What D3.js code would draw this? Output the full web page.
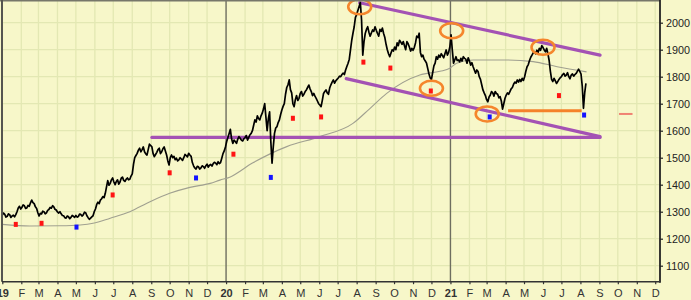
<!DOCTYPE html>
<html><head><meta charset="utf-8">
<script src="https://cdn.jsdelivr.net/npm/d3@7"></script>
<style>
html,body{margin:0;padding:0;background:#f7f7c9;}
svg{display:block;}
text{font-family:"Liberation Sans",Arial,sans-serif;}
</style></head><body>
<svg id="chart" width="691" height="300"></svg>
<script>
// ---------- data ----------
const priceStart = "2019-01-01";
const priceStepDays = 2;
const prices = [
 1288,1295,1290,1280,1283,1292,1289,1279,1284,1287,1281,1289,1300,1314,1320,1310,1316,1325,1322,1312,
 1314,1323,1320,1333,1343,1334,1330,1318,1312,1296,1284,1294,1292,1302,1300,1292,1296,1305,1308,1316,
 1313,1322,1318,1309,1306,1299,1295,1300,1292,1286,1285,1278,1276,1284,1281,1274,1279,1286,1283,1279,
 1286,1280,1282,1291,1290,1284,1288,1298,1296,1285,1278,1272,1276,1281,1285,1300,1310,1327,1335,1330,
 1343,1348,1356,1352,1368,1392,1415,1398,1405,1418,1425,1410,1400,1412,1418,1402,1410,1424,1428,1416,
 1412,1420,1425,1418,1420,1432,1440,1475,1500,1508,1516,1528,1535,1522,1530,1540,1522,1514,1510,1530,
 1550,1545,1540,1515,1504,1512,1520,1530,1535,1515,1522,1533,1540,1525,1510,1488,1473,1500,1510,1500,
 1505,1493,1498,1488,1492,1500,1495,1490,1500,1512,1508,1503,1516,1510,1505,1482,1470,1462,1458,1468,
 1466,1458,1462,1470,1467,1461,1470,1476,1465,1472,1475,1469,1478,1483,1480,1474,1485,1478,1482,1498,
 1515,1525,1540,1560,1575,1590,1605,1570,1553,1565,1560,1553,1568,1578,1572,1565,1562,1570,1575,1582,
 1565,1575,1585,1590,1600,1620,1640,1632,1655,1645,1640,1655,1665,1680,1700,1650,1600,1645,1670,1560,
 1480,1540,1590,1610,1615,1630,1640,1660,1677,1690,1700,1735,1760,1770,1788,1752,1740,1700,1689,1715,
 1730,1712,1720,1738,1745,1728,1735,1745,1751,1760,1769,1755,1745,1730,1738,1728,1720,1710,1700,1695,
 1689,1712,1738,1745,1751,1740,1735,1758,1770,1780,1788,1776,1785,1790,1795,1802,1800,1808,1813,1808,
 1825,1838,1850,1865,1900,1935,1961,1985,2020,2030,2045,2060,2075,2010,1880,1930,1960,1975,1985,1965,
 1950,1962,1973,1968,1985,1972,1960,1950,1975,1968,1980,1960,1945,1920,1900,1885,1874,1888,1900,1895,
 1910,1900,1925,1915,1935,1928,1920,1930,1915,1900,1930,1922,1910,1895,1905,1898,1908,1925,1950,1945,
 1961,1890,1874,1880,1865,1858,1850,1830,1810,1795,1790,1815,1840,1850,1874,1865,1880,1872,1885,1878,
 1870,1885,1899,1880,1890,1910,1955,1900,1850,1862,1874,1860,1862,1855,1868,1858,1874,1868,1865,1850,
 1870,1858,1843,1852,1837,1825,1813,1825,1819,1800,1790,1770,1751,1740,1730,1715,1707,1725,1732,1745,
 1740,1728,1745,1738,1735,1722,1726,1710,1680,1700,1720,1732,1740,1735,1745,1755,1760,1772,1780,1776,
 1788,1780,1790,1782,1794,1786,1800,1820,1837,1845,1860,1872,1880,1888,1893,1885,1898,1890,1905,1898,
 1915,1908,1899,1892,1905,1885,1860,1820,1790,1782,1794,1785,1775,1782,1790,1796,1800,1808,1812,1802,
 1806,1815,1800,1792,1806,1810,1802,1808,1812,1820,1828,1820,1810,1765,1683,1740,1775
];

const maDates = ["2019-01-01","2019-02-15","2019-04-05","2019-05-08","2019-05-29","2019-06-26",
 "2019-07-28","2019-08-30","2019-10-01","2019-11-03","2019-12-06","2019-12-22","2020-01-07",
 "2020-02-13","2020-04-09","2020-06-02","2020-07-26","2020-08-23","2020-09-19","2020-11-12",
 "2020-12-15","2020-12-31","2021-01-11","2021-02-07","2021-04-03","2021-05-16","2021-06-24","2021-08-11"];
const maValues = [1253,1247,1248,1251,1257,1276,1300,1337,1368,1390,1405,1417,1428,
 1480,1541,1578,1627,1683,1738,1806,1820,1831,1850,1862,1862,1856,1837,1818];

const markerDates = ["2019-01-23","2019-03-06","2019-05-02","2019-06-30","2019-10-01","2019-11-13",
 "2020-01-13","2020-03-14","2020-04-19","2020-06-04","2020-08-12","2020-09-25","2020-11-30",
 "2021-03-06","2021-06-27","2021-08-07"];
const markerValues = [1253,1257,1243,1362,1444,1425,1513,1427,1646,1651,1854,1832,1747,1651,1730,1658];
const markerKinds = ["r","r","b","r","r","b","r","b","r","r","r","r","r","b","r","b"];

const trendStartDates = ["2019-09-02","2020-07-15","2020-08-06"];
const trendStartValues = [1575,1793,2074];
const trendEndDates = ["2021-09-02","2021-09-02","2021-09-02"];
const trendEndValues = [1575,1578,1880];

const circleDates = ["2020-08-06","2021-01-03","2020-12-01","2021-03-02","2021-06-01"];
const circleValues = [2059,1970,1757,1662,1909];

const supportDates = ["2021-04-05","2021-08-03"];
const supportValue = 1674;
const targetDates = ["2021-10-03","2021-10-25"];
const targetValue = 1662;

const yTicks = [1100,1200,1300,1400,1500,1600,1700,1800,1900,2000];
const monthLetters = ["J","F","M","A","M","J","J","A","S","O","N","D"];

// ---------- setup ----------
const W = 691, H = 300;
const svg = d3.select("#chart");
const parse = d3.utcParse("%Y-%m-%d");
const x = d3.scaleUtc().domain([parse("2019-01-01"), parse("2021-12-08")]).range([2.3, 659.5]);
const y = d3.scaleLinear().domain([1100, 2000]).range([265.7, 22.7]);
const plotL = 2, plotR = 660, plotT = 0.8, plotB = 281.7;

svg.append("rect").attr("width", W).attr("height", H).attr("fill", "#f7f7c9");

const months = d3.utcMonth.range(parse("2019-01-01"), parse("2022-01-01"));

// grid
const grid = svg.append("g").attr("stroke", "#e3e8b3").attr("stroke-width", 1.3);
grid.selectAll("line.v").data(months.filter(m => m.getUTCMonth() !== 0)).join("line")
  .attr("x1", d => x(d)).attr("x2", d => x(d)).attr("y1", plotT).attr("y2", plotB);
grid.selectAll("line.h").data(yTicks).join("line")
  .attr("x1", plotL).attr("x2", plotR).attr("y1", d => y(d)).attr("y2", d => y(d));

// year lines
svg.append("g").selectAll("line").data(months.filter(m => m.getUTCMonth() === 0 && m.getUTCFullYear() > 2019)).join("line")
  .attr("x1", d => x(d)).attr("x2", d => x(d)).attr("y1", plotT).attr("y2", plotB)
  .attr("stroke", "#6e6e60").attr("stroke-width", 1.4);

// moving average
const maData = maDates.map((d, i) => [parse(d), maValues[i]]);
svg.append("path").datum(maData)
  .attr("fill", "none").attr("stroke", "#a0a090").attr("stroke-width", 1.1)
  .attr("d", d3.line().x(d => x(d[0])).y(d => y(d[1])).curve(d3.curveMonotoneX));

// trend lines (purple)
svg.append("g").selectAll("line").data(trendStartDates.map((d, i) => i)).join("line")
  .attr("x1", i => x(parse(trendStartDates[i]))).attr("y1", i => y(trendStartValues[i]))
  .attr("x2", i => x(parse(trendEndDates[i]))).attr("y2", i => y(trendEndValues[i]))
  .attr("stroke", "#a452b4").attr("stroke-width", 3.2).attr("stroke-linecap", "round");

// support line (orange)
svg.append("line")
  .attr("x1", x(parse(supportDates[0]))).attr("x2", x(parse(supportDates[1])))
  .attr("y1", y(supportValue)).attr("y2", y(supportValue))
  .attr("stroke", "#f5822a").attr("stroke-width", 3);

// target dash
svg.append("line")
  .attr("x1", x(parse(targetDates[0]))).attr("x2", x(parse(targetDates[1])))
  .attr("y1", y(targetValue)).attr("y2", y(targetValue))
  .attr("stroke", "#f08272").attr("stroke-width", 2);

// price line
const start = parse(priceStart);
const priceData = prices.map((v, i) => [d3.utcDay.offset(start, i * priceStepDays), v]);
svg.append("path").datum(priceData)
  .attr("fill", "none").attr("stroke", "#000").attr("stroke-width", 1.7).attr("stroke-linejoin", "round")
  .attr("d", d3.line().x(d => x(d[0])).y(d => y(d[1])));

// circles (orange)
svg.append("g").selectAll("ellipse").data(circleDates.map((d, i) => i)).join("ellipse")
  .attr("cx", i => x(parse(circleDates[i]))).attr("cy", i => y(circleValues[i]))
  .attr("rx", 11.5).attr("ry", 7.5)
  .attr("fill", "none").attr("stroke", "#f5862c").attr("stroke-width", 2.6);

// markers
svg.append("g").selectAll("rect").data(markerDates.map((d, i) => i)).join("rect")
  .attr("x", i => x(parse(markerDates[i])) - 2).attr("y", i => y(markerValues[i]) - 2.5)
  .attr("width", 4).attr("height", 5)
  .attr("fill", i => markerKinds[i] === "r" ? "#ff1414" : "#1414ff");

// borders / axes
svg.append("line").attr("x1", 0).attr("x2", plotR).attr("y1", plotT).attr("y2", plotT)
  .attr("stroke", "#77776a").attr("stroke-width", 1.6);
svg.append("line").attr("x1", plotL).attr("x2", plotL).attr("y1", 0).attr("y2", plotB)
  .attr("stroke", "#555550").attr("stroke-width", 2);

const yAxis = d3.axisRight(y).tickValues(yTicks).tickSize(3).tickPadding(3).tickFormat(d3.format("d"));
const ya = svg.append("g").attr("transform", `translate(${plotR},0)`).call(yAxis);
ya.select(".domain").remove();
ya.selectAll(".tick line").attr("stroke", "#222").attr("stroke-width", 1.2);
ya.selectAll(".tick text").attr("font-size", 10.8).attr("fill", "#222")
  .attr("font-family", "'Liberation Sans', Arial, sans-serif");
svg.append("line").attr("x1", plotR).attr("x2", plotR).attr("y1", 0).attr("y2", plotB + 1)
  .attr("stroke", "#222").attr("stroke-width", 1.8);

const xAxis = d3.axisBottom(x).tickValues(months).tickSize(2.5).tickPadding(5)
  .tickFormat(d => d.getUTCMonth() === 0 ? String(d.getUTCFullYear()).slice(2) : monthLetters[d.getUTCMonth()]);
const xa = svg.append("g").attr("transform", `translate(0,${plotB})`).call(xAxis);
xa.select(".domain").remove();
xa.selectAll(".tick line").attr("stroke", "#333").attr("stroke-width", 1.2);
xa.selectAll(".tick text").attr("font-size", 11).attr("fill", "#333")
  .attr("font-family", "'Liberation Sans', Arial, sans-serif")
  .attr("font-weight", d => d.getUTCMonth() === 0 ? "bold" : "normal");
svg.append("line").attr("x1", plotL).attr("x2", plotR).attr("y1", plotB).attr("y2", plotB)
  .attr("stroke", "#333").attr("stroke-width", 1.5);
</script>
</body></html>
